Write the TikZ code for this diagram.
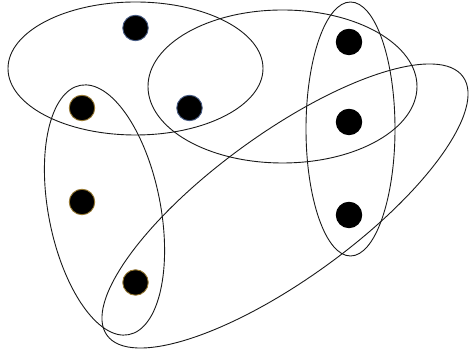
\documentclass[tikz,border=0pt]{standalone}
\usetikzlibrary{shapes.geometric}
\begin{document}
\begin{tikzpicture}[x=1pt,y=1pt,
  vtx/.style={circle,fill=black,inner sep=0pt,minimum size=25.5pt,line width=0.9pt},
  vblue/.style={vtx,draw={rgb,255:red,70;green,90;blue,130}},
  vgold/.style={vtx,draw={rgb,255:red,150;green,120;blue,50}},
  vblack/.style={vtx,draw=black},
  hedge/.style={ellipse,draw=black!90,line width=0.9pt,inner sep=0pt,fill=none}]
\useasboundingbox (0,0) rectangle (469,352);
% hyperedges
\node[hedge,minimum width=255pt,minimum height=133pt] (e1) at (135.5,283.5) {};
\node[hedge,minimum width=269pt,minimum height=153pt] (e2) at (282.5,265.5) {};
\node[hedge,minimum width=89pt,minimum height=254pt] (e3) at (350.5,223) {};
\node[hedge,minimum width=112pt,minimum height=254pt,rotate=11] (e4) at (104.5,142) {};
\node[hedge,minimum width=440pt,minimum height=145pt,rotate=36] (e5) at (285,146) {};
% vertices
\node[vblue] (v1) at (135.5,324) {};
\node[vblue] (v2) at (189.5,244) {};
\node[vgold] (v3) at (82,244) {};
\node[vgold] (v4) at (82,150) {};
\node[vgold] (v5) at (135.5,69.5) {};
\node[vblack] (v6) at (349,310) {};
\node[vblack] (v7) at (349,230) {};
\node[vblack] (v8) at (349,137) {};
\end{tikzpicture}
\end{document}
